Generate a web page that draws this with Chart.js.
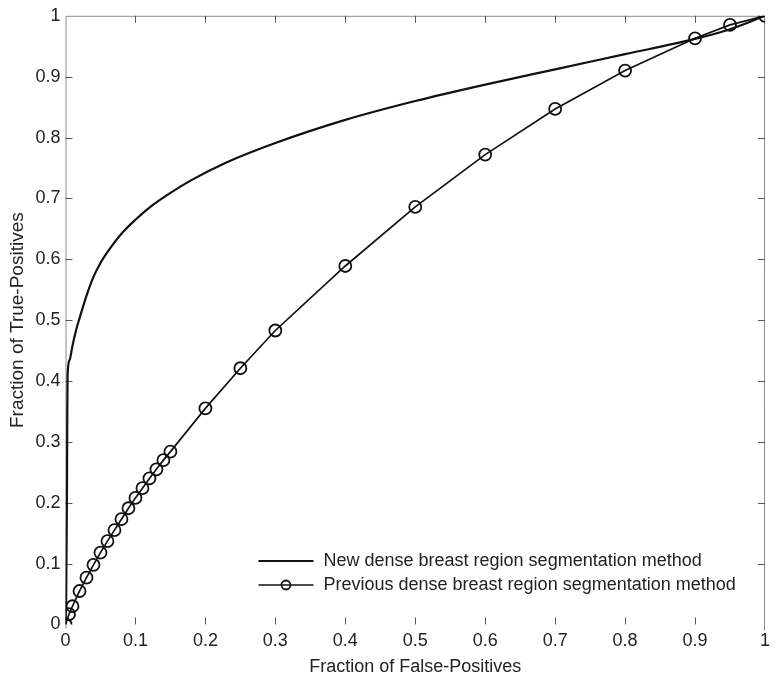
<!DOCTYPE html>
<html>
<head>
<meta charset="utf-8">
<script src="https://cdn.jsdelivr.net/npm/chart.js@4.4.1/dist/chart.umd.min.js"></script>
<style>
  html, body { margin: 0; padding: 0; background: #fff; }
  #wrap { width: 776px; height: 675px; }
</style>
</head>
<body>
<div id="wrap"><canvas id="rocChart" width="776" height="675"></canvas></div>
<script>
// values
var newFP = [0, 0.001, 0.002, 0.0025, 0.003, 0.006, 0.01, 0.015, 0.02, 0.03, 0.04, 0.05, 0.065, 0.08, 0.1, 0.12, 0.15, 0.18, 0.23, 0.3, 0.4, 0.5, 0.6, 0.7, 0.8, 0.9, 0.95, 1];
var newTP = [0, 0.05, 0.2, 0.33, 0.41, 0.435, 0.458, 0.483, 0.503, 0.54, 0.571, 0.594, 0.62, 0.642, 0.665, 0.685, 0.709, 0.73, 0.759, 0.791, 0.829, 0.86, 0.887, 0.912, 0.937, 0.962, 0.978, 1];

var prevFP = [0, 0.005, 0.01, 0.02, 0.03, 0.04, 0.05, 0.06, 0.07, 0.08, 0.09, 0.1, 0.11, 0.12, 0.13, 0.14, 0.15, 0.2, 0.25, 0.3, 0.4, 0.5, 0.6, 0.7, 0.8, 0.9, 0.95, 1];
var prevTP = [0, 0.017, 0.03, 0.055, 0.077, 0.098, 0.118, 0.137, 0.155, 0.173, 0.191, 0.208, 0.224, 0.24, 0.255, 0.27, 0.284, 0.355, 0.421, 0.483, 0.589, 0.686, 0.772, 0.847, 0.91, 0.963, 0.985, 1];

var tickValues = [0, 0.1, 0.2, 0.3, 0.4, 0.5, 0.6, 0.7, 0.8, 0.9, 1];
var tickLabels = ['0', '0.1', '0.2', '0.3', '0.4', '0.5', '0.6', '0.7', '0.8', '0.9', '1'];
var seriesNames = ['New dense breast region segmentation method', 'Previous dense breast region segmentation method'];
var xTitle = 'Fraction of False-Positives';
var yTitle = 'Fraction of True-Positives';

var FONT = '"Liberation Sans", Arial, sans-serif';
var TEXT = '#222';

function toPoints(xs, ys) {
    return xs.map(function (x, i) { return { x: x, y: ys[i] }; });
}

function setTicks(scale) {
    scale.ticks = tickValues.map(function (v) { return { value: v }; });
}

function tickText(value) {
    var i = tickValues.indexOf(value);
    return i >= 0 ? tickLabels[i] : '';
}

// matlab style box: grey frame on left/top/right, small inward ticks
var framePlugin = {
    id: 'frame',
    beforeDatasetsDraw: function (chart) {
        var ctx = chart.ctx, a = chart.chartArea;
        var xs = chart.scales.x, ys = chart.scales.y;
        var len = 7;
        ctx.save();
        ctx.strokeStyle = '#8a8a8a';
        ctx.lineWidth = 1;
        ctx.beginPath();
        ctx.moveTo(a.left + 0.5, a.bottom + 4);
        ctx.lineTo(a.left + 0.5, a.top + 0.5);
        ctx.lineTo(a.right - 0.5, a.top + 0.5);
        ctx.lineTo(a.right - 0.5, a.bottom + 6);
        ctx.stroke();
        ctx.strokeStyle = '#555';
        ctx.beginPath();
        tickValues.slice(1, -1).forEach(function (v) {
            var px = Math.round(xs.getPixelForValue(v)) + 0.5;
            ctx.moveTo(px, a.bottom); ctx.lineTo(px, a.bottom - len);
            ctx.moveTo(px, a.top); ctx.lineTo(px, a.top + len);
            var py = Math.round(ys.getPixelForValue(v)) + 0.5;
            ctx.moveTo(a.left, py); ctx.lineTo(a.left + len, py);
            ctx.moveTo(a.right, py); ctx.lineTo(a.right - len, py);
        });
        ctx.stroke();
        ctx.restore();
    }
};

// legend box inside the plot, lower right
var insideLegend = {
    id: 'insideLegend',
    afterDatasetsDraw: function (chart) {
        var ctx = chart.ctx, a = chart.chartArea;
        var boxL = a.left + 163, boxR = a.right - 12;
        var boxT = a.bottom - 82, boxB = a.bottom - 24;
        ctx.save();
        ctx.fillStyle = '#fff';
        ctx.fillRect(boxL, boxT, boxR - boxL, boxB - boxT);
        ctx.font = '18px ' + FONT;
        ctx.textBaseline = 'middle';
        chart.data.datasets.forEach(function (ds, i) {
            var y = a.bottom - 63.5 + i * 24;
            var x0 = boxL + 30, x1 = boxL + 85;
            ctx.strokeStyle = ds.borderColor;
            ctx.lineWidth = ds.borderWidth;
            ctx.beginPath();
            ctx.moveTo(x0, y); ctx.lineTo(x1, y);
            ctx.stroke();
            if (ds.pointRadius > 0) {
                ctx.lineWidth = ds.pointBorderWidth;
                ctx.beginPath();
                ctx.arc((x0 + x1) / 2, y, ds.pointRadius - 1.5, 0, Math.PI * 2);
                ctx.stroke();
            }
            ctx.fillStyle = TEXT;
            ctx.fillText(ds.label, x1 + 10, y);
        });
        ctx.restore();
    }
};

var ctx = document.getElementById('rocChart').getContext('2d');
var rocChart = new Chart(ctx, {
    type: 'line',
    data: {
        datasets: [{
            label: seriesNames[0],
            data: toPoints(newFP, newTP),
            borderColor: '#111',
            borderWidth: 2.2,
            pointRadius: 0,
            cubicInterpolationMode: 'monotone',
            fill: false
        }, {
            label: seriesNames[1],
            data: toPoints(prevFP, prevTP),
            borderColor: '#111',
            borderWidth: 1.7,
            pointRadius: 6,
            pointBorderWidth: 1.8,
            pointBorderColor: '#111',
            pointBackgroundColor: 'rgba(0,0,0,0)',
            tension: 0,
            fill: false
        }]
    },
    options: {
        responsive: false,
        animation: false,
        layout: { padding: { top: 11.5, right: 5.5, left: 0, bottom: 0 } },
        plugins: {
            legend: { display: false },
            tooltip: { enabled: false }
        },
        scales: {
            x: {
                type: 'linear',
                min: 0,
                max: 1,
                afterBuildTicks: setTicks,
                afterFit: function (s) { s.height = 50.5; },
                grid: { display: false, drawTicks: false },
                border: { display: false },
                ticks: {
                    color: TEXT,
                    font: { family: FONT, size: 18 },
                    padding: 6,
                    maxRotation: 0,
                    callback: tickText
                },
                title: {
                    display: true,
                    text: xTitle,
                    color: TEXT,
                    font: { family: FONT, size: 18 },
                    padding: { top: 0, bottom: -2.5 }
                }
            },
            y: {
                type: 'linear',
                min: 0,
                max: 1,
                afterBuildTicks: setTicks,
                afterFit: function (s) { s.width = 65.5; },
                grid: { display: false, drawTicks: false },
                border: { display: false },
                ticks: {
                    color: TEXT,
                    font: { family: FONT, size: 18 },
                    padding: 5,
                    callback: tickText
                },
                title: {
                    display: true,
                    text: yTitle,
                    color: TEXT,
                    font: { family: FONT, size: 19 },
                    padding: { top: 6.5, bottom: 0 }
                }
            }
        }
    },
    plugins: [framePlugin, insideLegend]
});
</script>
</body>
</html>
